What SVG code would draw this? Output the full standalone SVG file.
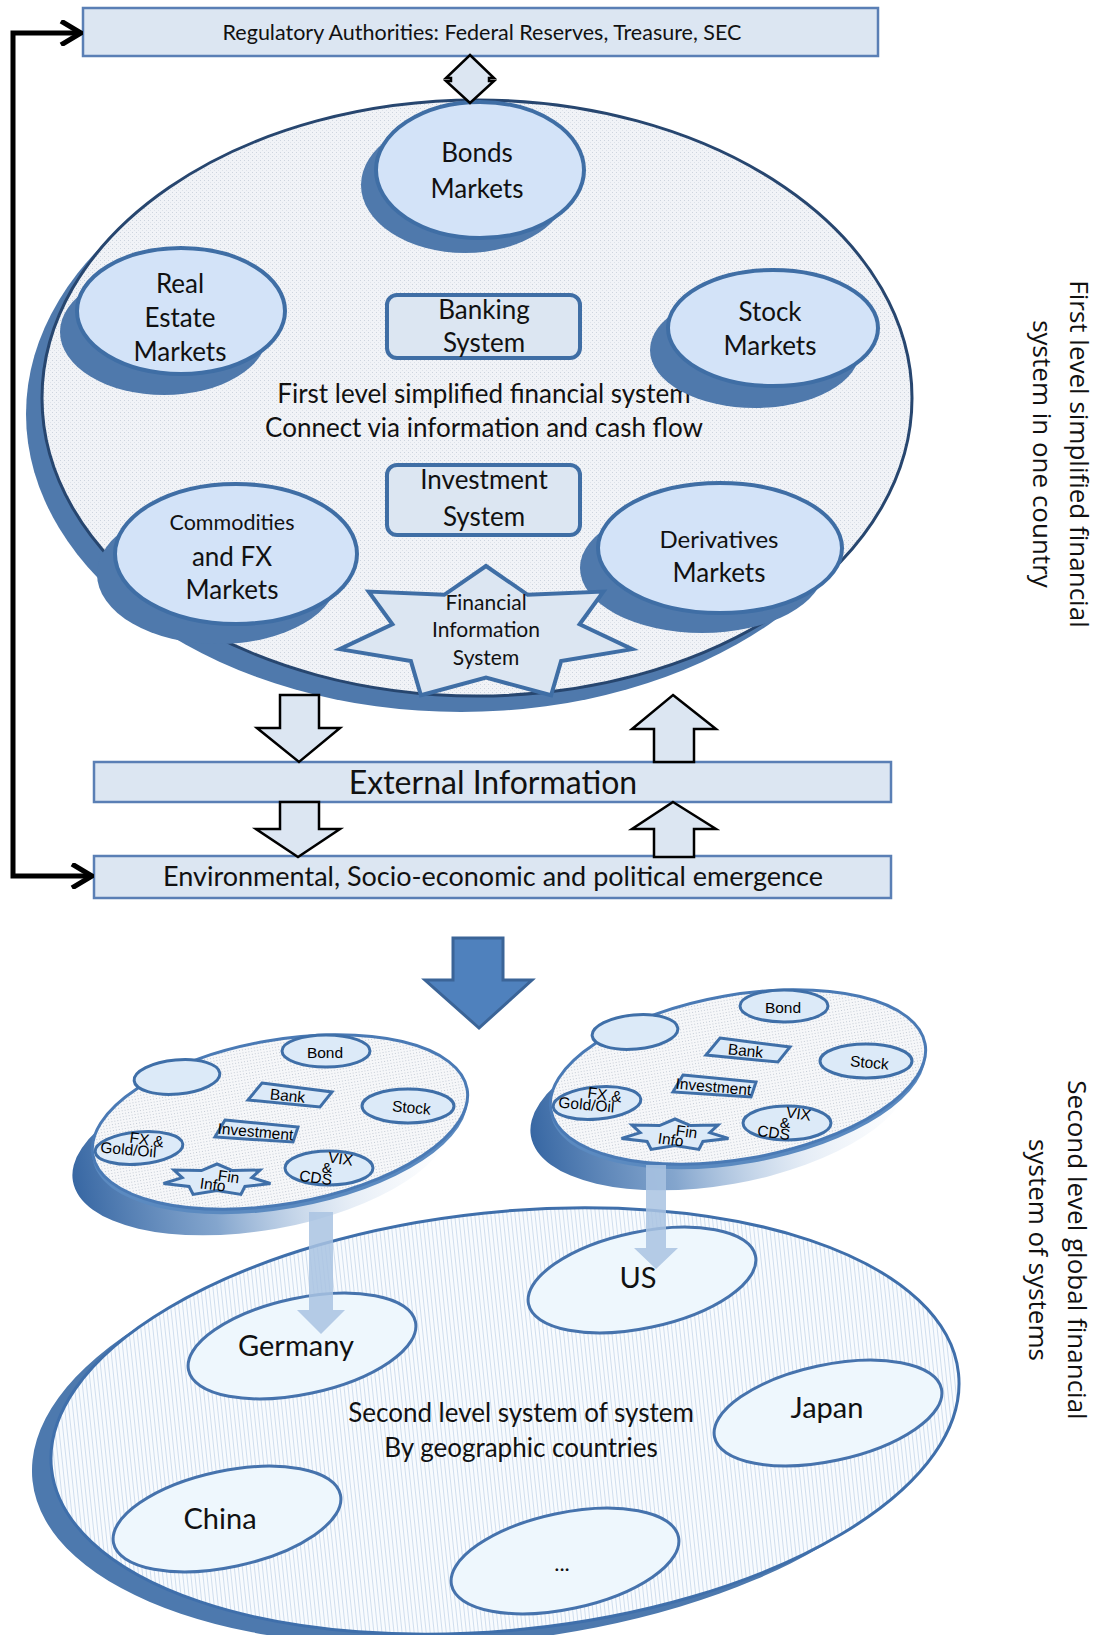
<svg xmlns="http://www.w3.org/2000/svg" width="1109" height="1635" viewBox="0 0 1109 1635">
<defs>
<style>
.t{font-family:Lato,"Open Sans","Liberation Sans",sans-serif;fill:#111;text-anchor:middle}
.s{font-family:"Liberation Sans",Arial,sans-serif;fill:#000;text-anchor:middle;font-size:15.5px}
.v{font-family:"Open Sans","Noto Sans",sans-serif;fill:#111;text-anchor:middle;font-size:26px}
.node{fill:#d3e3f8;stroke:#3f6ea5;stroke-width:4}
.nsh{fill:#4f79ac}
.box{fill:#dce6f2;stroke:#5a7fb5;stroke-width:2.5}
.sys{fill:#dce6f2;stroke:#3f6ea5;stroke-width:4}
.barrow{fill:#dce6f2;stroke:#000;stroke-width:2.5}
.country{fill:#eef7fd;stroke:#4673ad;stroke-width:3}
.pitem{fill:#dceaf8;stroke:#3f6fa8;stroke-width:3}
.vconn{fill:#a9c3e2;opacity:0.85}
</style>
<pattern id="dots" width="4" height="4" patternUnits="userSpaceOnUse">
<rect width="4" height="4" fill="#f1f3f7"/><rect width="1" height="1" fill="#cdd4de"/><rect x="2" y="2" width="1" height="1" fill="#dde2e9"/>
</pattern>
<pattern id="pdots" width="3" height="3" patternUnits="userSpaceOnUse">
<rect width="3" height="3" fill="#f6f7f9"/><rect width="1" height="1" fill="#c3cad4"/>
</pattern>
<pattern id="vlines" width="4" height="4" patternUnits="userSpaceOnUse">
<rect width="4" height="4" fill="#f8fbfe"/><rect width="1" height="4" fill="#d0deee"/>
</pattern>
<linearGradient id="pshadow" x1="0" y1="0" x2="1" y2="0">
<stop offset="0" stop-color="#2d5f9e" stop-opacity="0.95"/>
<stop offset="0.35" stop-color="#4f7fb8" stop-opacity="0.7"/>
<stop offset="0.7" stop-color="#9ab8dc" stop-opacity="0.25"/>
<stop offset="1" stop-color="#c8d8ec" stop-opacity="0"/>
</linearGradient>
<marker id="chev" viewBox="0 0 24 26" refX="22" refY="13" markerWidth="24" markerHeight="26" markerUnits="userSpaceOnUse" orient="auto-start-reverse">
<path d="M2,1 L22,13 L2,25" fill="none" stroke="#000" stroke-width="5"/>
</marker>
</defs>
<rect width="1109" height="1635" fill="#fff"/>

<g id="first-level-system">
<ellipse cx="461" cy="414" rx="435" ry="298" fill="#4f79ac"/>
<ellipse cx="477" cy="398" rx="435" ry="298" fill="url(#dots)" stroke="#27466f" stroke-width="3"/>
<text class="t" x="484" y="403" font-size="26">First level simplified financial system</text>
<text class="t" x="484" y="437" font-size="26">Connect via information and cash flow</text>
</g>

<g id="regulatory">
<rect class="box" x="83" y="8" width="795" height="48"/>
<text class="t" x="482" y="40" font-size="21.5">Regulatory Authorities: Federal Reserves, Treasure, SEC</text>
</g>

<g id="bonds">
<ellipse class="nsh" cx="465" cy="185" rx="104" ry="68"/>
<ellipse class="node" cx="480" cy="170" rx="104" ry="68"/>
<text class="t" x="477" y="162" font-size="26">Bonds</text>
<text class="t" x="477" y="198" font-size="26">Markets</text>
</g>

<g id="real-estate">
<ellipse class="nsh" cx="164" cy="332" rx="104" ry="63"/>
<ellipse class="node" cx="181" cy="311" rx="104" ry="63"/>
<text class="t" x="180" y="293" font-size="26">Real</text>
<text class="t" x="180" y="327" font-size="26">Estate</text>
<text class="t" x="180" y="361" font-size="26">Markets</text>
</g>

<g id="stock">
<ellipse class="nsh" cx="755" cy="350" rx="105" ry="58"/>
<ellipse class="node" cx="773" cy="328" rx="105" ry="58"/>
<text class="t" x="770" y="321" font-size="26">Stock</text>
<text class="t" x="770" y="355" font-size="26">Markets</text>
</g>

<g id="commodities">
<ellipse class="nsh" cx="218" cy="574" rx="121" ry="70"/>
<ellipse class="node" cx="236" cy="554" rx="121" ry="70"/>
<text class="t" x="232" y="530" font-size="21.5">Commodities</text>
<text class="t" x="232" y="566" font-size="26">and FX</text>
<text class="t" x="232" y="599" font-size="26">Markets</text>
</g>

<g id="derivatives">
<ellipse class="nsh" cx="702" cy="568" rx="122" ry="65"/>
<ellipse class="node" cx="720" cy="548" rx="122" ry="65"/>
<text class="t" x="719" y="548" font-size="24">Derivatives</text>
<text class="t" x="719" y="582" font-size="26">Markets</text>
</g>

<g id="banking">
<rect class="sys" x="387" y="295" width="193" height="63" rx="10"/>
<text class="t" x="484" y="319" font-size="26">Banking</text>
<text class="t" x="484" y="352" font-size="26">System</text>
</g>

<g id="investment">
<rect class="sys" x="387" y="465" width="193" height="70" rx="10"/>
<text class="t" x="484" y="489" font-size="26">Investment</text>
<text class="t" x="484" y="526" font-size="26">System</text>
</g>

<g id="fin-info">
<path class="sys" d="M486,566 L527.7,594.8 L603.3,591.6 L579.6,624.3 L632.2,649.1 L561.1,661.1 L551.1,695.3 L486,677.5 L420.9,695.3 L410.9,661.1 L339.8,649.1 L392.4,624.3 L368.7,591.6 L444.3,594.8 Z"/>
<text class="t" x="486" y="610" font-size="21">Financial</text>
<text class="t" x="486" y="637" font-size="21">Information</text>
<text class="t" x="486" y="665" font-size="21">System</text>
</g>

<g id="external">
<rect class="box" x="94" y="762" width="797" height="40"/>
<text class="t" x="493" y="794" font-size="32">External Information</text>
</g>

<g id="environmental">
<rect class="box" x="94" y="856" width="797" height="42"/>
<text class="t" x="493" y="886" font-size="27">Environmental, Socio-economic and political emergence</text>
</g>

<g id="second-level-system">
<ellipse cx="486" cy="1433" rx="456" ry="209" transform="rotate(-6 486 1433)" fill="#4d79ae"/>
<ellipse cx="505" cy="1421" rx="456" ry="209" transform="rotate(-6 505 1421)" fill="url(#vlines)" stroke="#3f6fab" stroke-width="3"/>
<text class="t" x="521" y="1422" font-size="26">Second level system of system</text>
<text class="t" x="521" y="1457" font-size="26">By geographic countries</text>
</g>

<g id="us">
<ellipse class="country" cx="642" cy="1280" rx="116" ry="48" transform="rotate(-12 642 1280)"/>
<text class="t" x="638" y="1288" font-size="29">US</text>
</g>
<g id="germany">
<ellipse class="country" cx="302" cy="1346" rx="116" ry="48" transform="rotate(-12 302 1346)"/>
<text class="t" x="296" y="1356" font-size="29">Germany</text>
</g>
<g id="japan">
<ellipse class="country" cx="828" cy="1413" rx="116" ry="48" transform="rotate(-12 828 1413)"/>
<text class="t" x="827" y="1418" font-size="29">Japan</text>
</g>
<g id="china">
<ellipse class="country" cx="227" cy="1519" rx="116" ry="48" transform="rotate(-12 227 1519)"/>
<text class="t" x="220" y="1529" font-size="29">China</text>
</g>
<g id="others">
<ellipse class="country" cx="565" cy="1561" rx="116" ry="48" transform="rotate(-12 565 1561)"/>
<text class="t" x="562" y="1571" font-size="22">...</text>
</g>

<g id="plate-left">
<ellipse cx="262" cy="1148" rx="192" ry="82" transform="rotate(-10 262 1148)" fill="url(#pshadow)"/>
<ellipse cx="280" cy="1127" rx="190" ry="82" transform="rotate(-10 280 1127)" fill="#5b8ac0"/>
<ellipse cx="280" cy="1122" rx="190" ry="82" transform="rotate(-10 280 1122)" fill="url(#pdots)" stroke="#4a7ab5" stroke-width="3"/>
<ellipse class="pitem" cx="177" cy="1077" rx="43" ry="17" transform="rotate(-5 177 1077)"/>
<ellipse class="pitem" cx="326" cy="1051" rx="44" ry="16"/>
<text class="s" x="325" y="1058">Bond</text>
<path class="pitem" d="M262,1083 L332,1092 L320,1107 L248,1100 Z"/>
<text class="s" x="287" y="1101" transform="rotate(6 287 1101)">Bank</text>
<ellipse class="pitem" cx="408" cy="1106" rx="46" ry="17"/>
<text class="s" x="411" y="1113" transform="rotate(5 411 1113)">Stock</text>
<path class="pitem" d="M225,1120 L298,1127 L293,1142 L215,1137 Z"/>
<text class="s" x="255" y="1137" transform="rotate(5 255 1137)">Investment</text>
<ellipse class="pitem" cx="139" cy="1148" rx="44" ry="16" transform="rotate(-5 139 1148)"/>
<text class="s" x="146" y="1145" transform="rotate(8 146 1145)">FX &amp;</text>
<text class="s" x="128" y="1155" transform="rotate(5 128 1155)">Gold/Oil</text>
<path class="pitem" d="M217,1164 L232.5,1170.6 L260,1170 L251.8,1177.7 L270.5,1183.5 L244.9,1186.5 L240.9,1194.4 L217,1190.4 L193.1,1194.4 L189.1,1186.5 L163.5,1183.5 L182.2,1177.7 L174,1170 L201.5,1170.6 Z"/>
<text class="s" x="228" y="1182" transform="rotate(8 228 1182)">Fin</text>
<text class="s" x="212" y="1190" transform="rotate(8 212 1190)">Info</text>
<ellipse class="pitem" cx="329" cy="1168" rx="44" ry="17"/>
<text class="s" x="340" y="1164" transform="rotate(8 340 1164)">VIX</text>
<text class="s" x="327" y="1173">&amp;</text>
<text class="s" x="315" y="1183" transform="rotate(8 315 1183)">CDS</text>
</g>

<g id="plate-right" transform="translate(458,-45)">
<ellipse cx="262" cy="1148" rx="192" ry="82" transform="rotate(-10 262 1148)" fill="url(#pshadow)"/>
<ellipse cx="280" cy="1127" rx="190" ry="82" transform="rotate(-10 280 1127)" fill="#5b8ac0"/>
<ellipse cx="280" cy="1122" rx="190" ry="82" transform="rotate(-10 280 1122)" fill="url(#pdots)" stroke="#4a7ab5" stroke-width="3"/>
<ellipse class="pitem" cx="177" cy="1077" rx="43" ry="17" transform="rotate(-5 177 1077)"/>
<ellipse class="pitem" cx="326" cy="1051" rx="44" ry="16"/>
<text class="s" x="325" y="1058">Bond</text>
<path class="pitem" d="M262,1083 L332,1092 L320,1107 L248,1100 Z"/>
<text class="s" x="287" y="1101" transform="rotate(6 287 1101)">Bank</text>
<ellipse class="pitem" cx="408" cy="1106" rx="46" ry="17"/>
<text class="s" x="411" y="1113" transform="rotate(5 411 1113)">Stock</text>
<path class="pitem" d="M225,1120 L298,1127 L293,1142 L215,1137 Z"/>
<text class="s" x="255" y="1137" transform="rotate(5 255 1137)">Investment</text>
<ellipse class="pitem" cx="139" cy="1148" rx="44" ry="16" transform="rotate(-5 139 1148)"/>
<text class="s" x="146" y="1145" transform="rotate(8 146 1145)">FX &amp;</text>
<text class="s" x="128" y="1155" transform="rotate(5 128 1155)">Gold/Oil</text>
<path class="pitem" d="M217,1164 L232.5,1170.6 L260,1170 L251.8,1177.7 L270.5,1183.5 L244.9,1186.5 L240.9,1194.4 L217,1190.4 L193.1,1194.4 L189.1,1186.5 L163.5,1183.5 L182.2,1177.7 L174,1170 L201.5,1170.6 Z"/>
<text class="s" x="228" y="1182" transform="rotate(8 228 1182)">Fin</text>
<text class="s" x="212" y="1190" transform="rotate(8 212 1190)">Info</text>
<ellipse class="pitem" cx="329" cy="1168" rx="44" ry="17"/>
<text class="s" x="340" y="1164" transform="rotate(8 340 1164)">VIX</text>
<text class="s" x="327" y="1173">&amp;</text>
<text class="s" x="315" y="1183" transform="rotate(8 315 1183)">CDS</text>
</g>

<g id="connectors">
<path d="M81,33 H13 V876 H92" fill="none" stroke="#000" stroke-width="5" marker-start="url(#chev)" marker-end="url(#chev)"/>
<path d="M470,55 L494,78 L489,78 L489,81 L494,81 L470,103 L446,81 L451,81 L451,78 L446,78 Z" fill="#dce6f2" stroke="#000" stroke-width="2.5"/>
<path class="barrow" d="M280,695 H319 V728 H340 L299,762 L257,728 H280 Z"/>
<path class="barrow" d="M673,695 L716,729 H694 V762 H654 V729 H632 Z"/>
<path class="barrow" d="M280,802 H319 V829 H340 L298,857 L256,829 H280 Z"/>
<path class="barrow" d="M673,802 L716,829 H694 V857 H654 V829 H632 Z"/>
<path d="M453,938 H503 V980 H532 L479,1028 L425,980 H453 Z" fill="#4f81bd" stroke="#3b6497" stroke-width="3"/>
<path class="vconn" d="M309,1212 H333 V1310 H345 L321,1334 L297,1310 H309 Z"/>
<path class="vconn" d="M646,1165 H666 V1248 H678 L656,1269 L634,1248 H646 Z"/>
</g>

<g id="label-first">
<text class="v" transform="translate(1070,454) rotate(90)">First level simplified financial</text>
<text class="v" transform="translate(1033,454) rotate(90)">system in one country</text>
</g>
<g id="label-second">
<text class="v" transform="translate(1068,1250) rotate(90)">Second level global financial</text>
<text class="v" transform="translate(1029,1250) rotate(90)">system of systems</text>
</g>
</svg>
